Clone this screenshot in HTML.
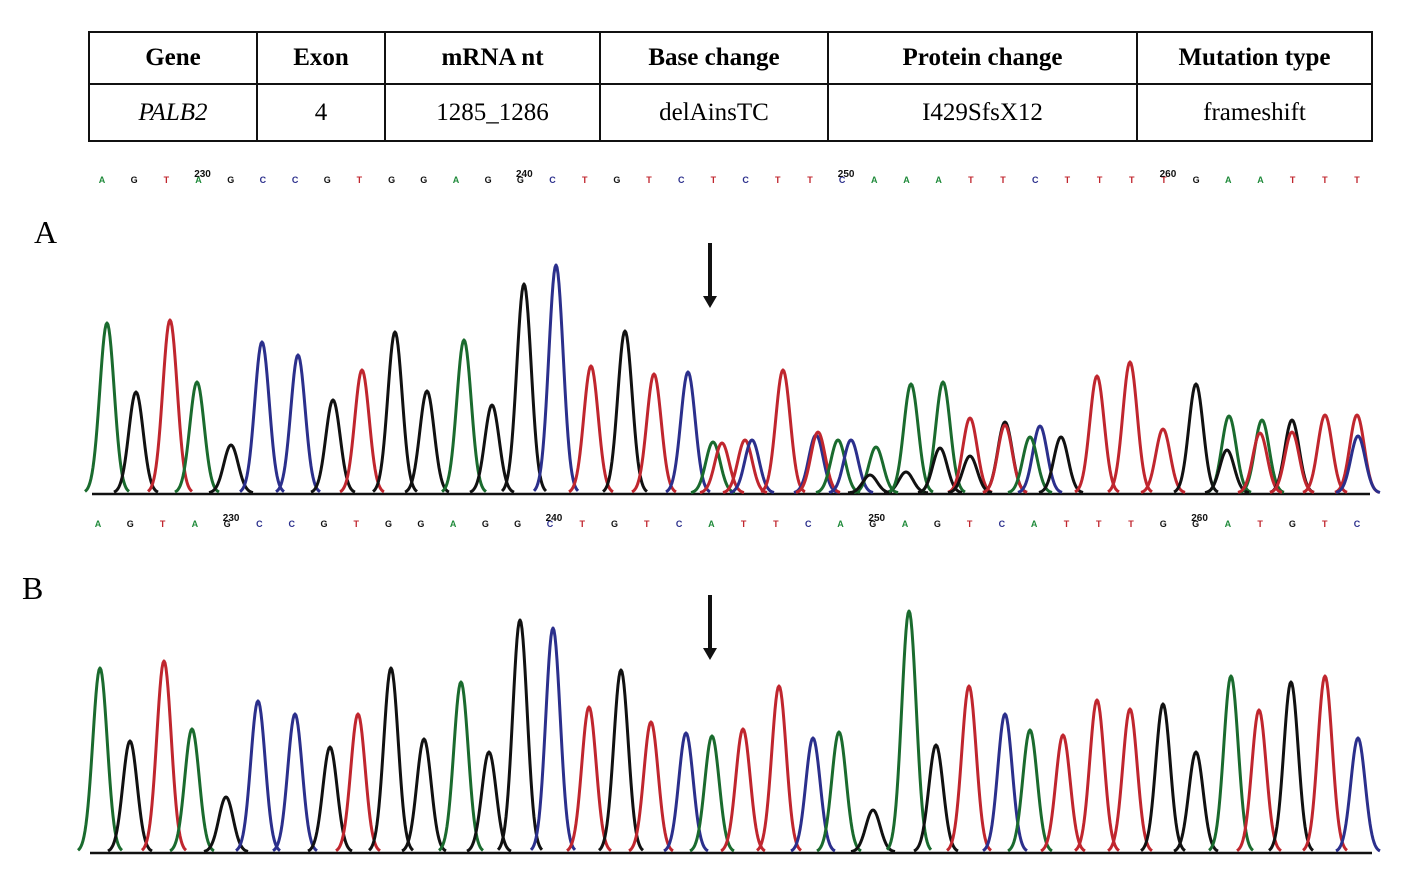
<!DOCTYPE html>
<html><head><meta charset="utf-8"><style>
body{margin:0;background:#fff;width:1417px;height:890px;overflow:hidden;position:relative;font-family:"Liberation Serif",serif}
table{position:absolute;left:88px;top:31px;width:1283px;height:111px;border-collapse:collapse;table-layout:fixed}
td{border:2px solid #111;text-align:center;font-size:25px;padding:0}
tr.h td{font-weight:bold;height:50px}
.lab{position:absolute;font-size:32px}
svg{position:absolute;left:0;top:0}
</style></head><body>
<table>
<colgroup><col style="width:168px"><col style="width:128px"><col style="width:215px"><col style="width:228px"><col style="width:309px"><col style="width:235px"></colgroup>
<tr class="h"><td>Gene</td><td>Exon</td><td>mRNA nt</td><td>Base change</td><td>Protein change</td><td>Mutation type</td></tr>
<tr><td><i>PALB2</i></td><td>4</td><td>1285_1286</td><td>delAinsTC</td><td>I429SfsX12</td><td>frameshift</td></tr>
</table>
<div class="lab" style="left:34px;top:214px">A</div>
<div class="lab" style="left:22px;top:570px">B</div>
<svg id="s" width="1417" height="890"></svg>
<script>
const seqA="AGTAGCCGTGGAGGCTGTCTCTTCAAATTCTTTTGAATTT";
const seqB="AGTAGCCGTGGAGGCTGTCATTCAGAGTCATTTGGATGTC";
const posLabels=["230","240","250","260"];
const peaksAx=[107,136,170,197,231,262,298,333,362,395,427,464,492,524,556,591,625,654,688,713,722,745,752,783,816,818,838,851,876,870,906,911,943,940,970,970,1005,1005,1040,1030,1061,1097,1130,1163,1196,1229,1227,1262,1260,1292,1292,1325,1357,1358];
const peaksAy=[323,392,320,382,445,342,355,400,370,332,391,340,405,284,265,366,331,374,372,442,443,440,440,370,435,432,440,440,447,475,472,384,382,448,418,456,422,425,426,437,437,376,362,429,384,416,450,420,433,420,432,415,415,436];
const peaksAc="GKRGKBBKRKKGKKBRKRBGRRBRBRGBGKKGGKRKKRBGKRRRKGKGRKRRRB";
const peaksBx=[100,130,164,192,226,258,295,330,358,391,424,461,489,520,553,589,621,651,686,712,743,779,813,839,873,909,936,969,1005,1030,1063,1097,1130,1163,1196,1231,1259,1291,1325,1358];
const peaksBy=[668,741,661,729,797,701,714,747,714,668,739,682,752,620,628,707,670,722,733,736,729,686,738,732,810,611,745,686,714,730,735,700,709,704,752,676,710,682,676,738];
const peaksBc="GKRGKBBKRKKGKKBRKRBGRRBGKGKRBGRRRKKGRKRB";
const col={G:"#1a6b2e",K:"#111",R:"#c0262e",B:"#2b2f8c"};
const bcol={A:"#1f8a3a",G:"#111",T:"#c0262e",C:"#2b2f8c"};
const s=document.getElementById('s');
const NS="http://www.w3.org/2000/svg";
function mk(t,a){const e=document.createElementNS(NS,t);for(const k in a)e.setAttribute(k,a[k]);s.appendChild(e);return e;}
function letters(seq,x0,x1,y,lblIdx,name){
  const dx=(x1-x0)/(seq.length-1);
  for(let i=0;i<seq.length;i++){
    const t=mk('text',{x:x0+i*dx,y:y,'font-size':9,'font-weight':'bold','text-anchor':'middle',fill:bcol[seq[i]],'font-family':'Liberation Sans, sans-serif'});
    t.textContent=seq[i];
    
    
  }
  lblIdx.forEach((idx,j)=>{
    const t=mk('text',{x:x0+idx*dx+4,y:y-6,'font-size':10,'font-weight':'bold','text-anchor':'middle',fill:'#111','font-family':'Liberation Sans, sans-serif'});
    t.textContent=posLabels[j];
    
    
  });
}
function trace(xs,ys,cs,base,name){
  const sg=7.2;
  for(let i=0;i<xs.length;i++){
    let d="";
    for(let k=-22;k<=22;k++){
      const x=xs[i]+k, y=base-(base-ys[i])*Math.exp(-k*k/(2*sg*sg));
      d+=(k==-22?"M":"L")+x.toFixed(1)+" "+y.toFixed(1);
    }
    const p=mk('path',{d:d,fill:'none',stroke:col[cs[i]],'stroke-width':3,'stroke-linejoin':'round'});
    
    
  }
}
letters(seqA,102,1357,183,[3,13,23,33],'sequence-a');
letters(seqB,98,1357,527,[4,14,24,34],'sequence-b');
const la=mk('line',{x1:92,y1:494,x2:1370,y2:494,stroke:'#111','stroke-width':2.5});

const lb=mk('line',{x1:90,y1:853,x2:1372,y2:853,stroke:'#111','stroke-width':2.5});

trace(peaksAx,peaksAy,peaksAc,493,'trace-a');
trace(peaksBx,peaksBy,peaksBc,852,'trace-b');
[[243,308],[595,660]].forEach((a,i)=>{
  const g=mk('path',{d:`M708 ${a[0]}L712 ${a[0]}L712 ${a[1]-12}L717 ${a[1]-12}L710 ${a[1]}L703 ${a[1]-12}L708 ${a[1]-12}Z`,fill:'#111'});
  
  
});
</script>
</body></html>
